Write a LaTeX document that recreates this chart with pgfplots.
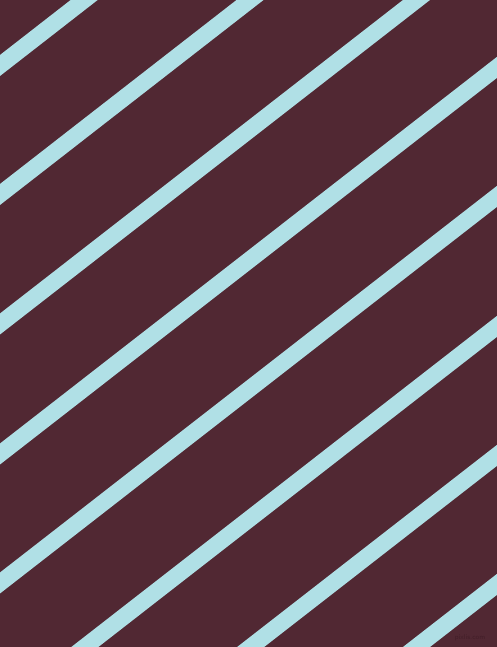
\documentclass[border=0pt]{standalone}
\usepackage{pgfplots}
\pgfplotsset{compat=1.18}
\definecolor{bgc}{RGB}{81,40,51}
\definecolor{stripe}{RGB}{176,224,230}
\definecolor{wmark}{RGB}{66,30,40}
\begin{document}
\begin{tikzpicture}
\begin{axis}[
scale only axis,
width=497pt, height=647pt,
xmin=0, xmax=497,
ymin=0, ymax=647,
y dir=reverse,
axis line style={draw=none},
ticks=none,
axis background/.style={fill=bgc},
]

% stripes, image pixel coordinates (y down), run past both edges
\addplot[stripe, line width=16.6pt] coordinates {(-30,88.8) (527,-344.5)};
\addplot[stripe, line width=16.6pt] coordinates {(-30,217.8) (527,-215.5)};
\addplot[stripe, line width=16.6pt] coordinates {(-30,347.3) (527,-86.0)};
\addplot[stripe, line width=16.6pt] coordinates {(-30,477.3) (527,44.0)};
\addplot[stripe, line width=16.6pt] coordinates {(-30,606.3) (527,173.0)};
\addplot[stripe, line width=16.6pt] coordinates {(-30,736.3) (527,303.0)};
\addplot[stripe, line width=16.6pt] coordinates {(-30,865.3) (527,432.0)};
\addplot[stripe, line width=16.6pt] coordinates {(-30,994.3) (527,561.0)};

\node[text=wmark, font=\sffamily\scriptsize, inner sep=0pt] at (axis cs:470,638) {pixlis.com};
\end{axis}
\end{tikzpicture}
\end{document}
